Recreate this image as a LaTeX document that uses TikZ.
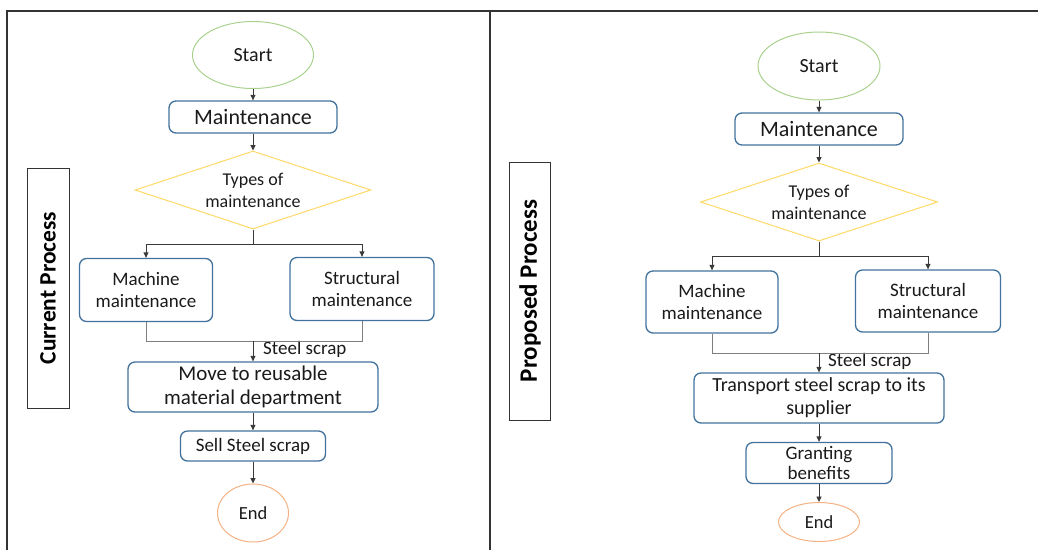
\documentclass[tikz,border=0pt]{standalone}
\usepackage{fontspec}
\setmainfont{Carlito}
\usetikzlibrary{shapes.geometric,arrows.meta}
\definecolor{boxblue}{HTML}{41719C}
\definecolor{startgreen}{HTML}{A9D18E}
\definecolor{endorange}{HTML}{F4B183}
\definecolor{diamgold}{HTML}{FFD966}
\definecolor{arrowgray}{HTML}{3A3A3A}
\definecolor{joingray}{HTML}{7F7F7F}
\definecolor{framegray}{HTML}{333333}
\definecolor{ink}{HTML}{1A1A1A}

\newcommand{\fs}[2]{\fontsize{#1}{#2}\selectfont}

\begin{document}
\begin{tikzpicture}[x=1pt,y=-1pt,
  every node/.style={text=ink},
  proc/.style={draw=boxblue, line width=1.3pt, rounded corners=7pt,
    align=center, inner sep=0pt},
  term/.style={ellipse, draw=#1, line width=1pt, inner sep=0pt},
  decision/.style={diamond, draw=diamgold, line width=1pt, aspect=3,
    inner sep=0pt, align=center},
  sidelabel/.style={draw=framegray, line width=0.8pt, rotate=90,
    inner sep=0pt, font=\fs{#1}{#1}\bfseries, text=black},
  arr/.style={draw=arrowgray, line width=0.9pt,
    -{Triangle[length=5.5pt,width=5pt]}},
  conn/.style={draw=joingray, line width=1pt},
  frame/.style={draw=framegray, line width=1.6pt},
  note/.style={anchor=west, inner sep=0pt, font=\fs{19}{22}}
]
\useasboundingbox (0,0) rectangle (1038,550);

% outer frame and panel divider
\draw[frame] (7,550) -- (7,11) -- (1038,11);
\draw[frame] (490,11) -- (490,550);

% ---------------- current process ----------------
\node[sidelabel=23.5, minimum width=240pt, minimum height=42pt]
  (cur) at (48,288) {Current Process};

\node[term=startgreen, minimum width=121pt, minimum height=67pt,
  font=\fs{20}{24}] (s1) at (253,55) {Start};
\node[proc, minimum width=168pt, minimum height=32pt, font=\fs{22}{26}]
  (m1) at (253,117) {Maintenance};
\node[decision, minimum width=236pt, minimum height=78pt, font=\fs{18}{22}]
  (d1) at (253,190) {Types of\\maintenance};
\node[proc, minimum width=133pt, minimum height=63pt, font=\fs{19}{22}]
  (mm1) at (146,290) {Machine\\maintenance};
\node[proc, minimum width=144pt, minimum height=63pt, font=\fs{19}{22}]
  (sm1) at (362,289) {Structural\\maintenance};
\node[proc, minimum width=250pt, minimum height=50pt, font=\fs{21}{24}]
  (mv1) at (253,387) {Move to reusable\\material department};
\node[proc, minimum width=145pt, minimum height=30pt, font=\fs{19}{22}]
  (sl1) at (253,446) {Sell Steel scrap};
\node[term=endorange, minimum width=71pt, minimum height=58pt,
  font=\fs{18.5}{22}] (e1) at (253,513) {End};

\coordinate (j1) at (253,341);
\node[note] (n1) at (263,349) {Steel scrap};

\draw[arr] (s1) -- (m1);
\draw[arr] (m1) -- (d1);
\draw[arr] (d1.south) -- ++(0,15) -| (mm1.north);
\draw[arr] (d1.south) -- ++(0,15) -| (sm1.north);
\draw[conn] (mm1.south) |- (j1);
\draw[conn] (sm1.south) |- (j1);
\draw[arr] (j1) -- (mv1.north);
\draw[arr] (mv1) -- (sl1);
\draw[arr] (sl1) -- (e1);

% ---------------- proposed process ----------------
\node[sidelabel=25, minimum width=258pt, minimum height=41pt]
  (prop) at (530,291) {Proposed Process};

\node[term=startgreen, minimum width=122pt, minimum height=68pt,
  font=\fs{20}{24}] (s2) at (819,66) {Start};
\node[proc, minimum width=168pt, minimum height=32pt, font=\fs{22}{26}]
  (m2) at (819,129) {Maintenance};
\node[decision, minimum width=237pt, minimum height=78pt, font=\fs{18}{22}]
  (d2) at (819,202) {Types of\\maintenance};
\node[proc, minimum width=132pt, minimum height=62pt, font=\fs{19}{22}]
  (mm2) at (712,302) {Machine\\maintenance};
\node[proc, minimum width=145pt, minimum height=62pt, font=\fs{19}{22}]
  (sm2) at (928,301) {Structural\\maintenance};
\node[proc, minimum width=250pt, minimum height=50pt, font=\fs{20}{23}]
  (tr2) at (819,398) {Transport steel scrap to its\\supplier};
\node[proc, minimum width=146pt, minimum height=41pt, font=\fs{19}{20.5}]
  (gr2) at (819,463) {Granting\\benefits};
\node[term=endorange, minimum width=81pt, minimum height=39pt,
  font=\fs{18.5}{22}] (e2) at (819,522) {End};

\coordinate (j2) at (819,353);
\node[note] (n2) at (828,361) {Steel scrap};

\draw[arr] (s2) -- (m2);
\draw[arr] (m2) -- (d2);
\draw[arr] (d2.south) -- ++(0,15) -| (mm2.north);
\draw[arr] (d2.south) -- ++(0,15) -| (sm2.north);
\draw[conn] (mm2.south) |- (j2);
\draw[conn] (sm2.south) |- (j2);
\draw[arr] (j2) -- (tr2.north);
\draw[arr] (tr2) -- (gr2);
\draw[arr] (gr2) -- (e2);
\end{tikzpicture}
\end{document}
